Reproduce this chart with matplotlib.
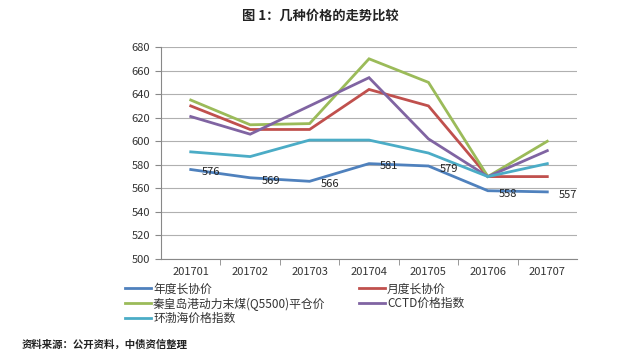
import matplotlib
matplotlib.use("Agg")
import matplotlib.pyplot as plt

plt.rcParams["font.family"] = ["Noto Sans CJK SC", "DejaVu Sans"]

months = ["201701", "201702", "201703", "201704", "201705", "201706", "201707"]
annual = [576, 569, 566, 581, 579, 558, 557]
monthly = [630, 610, 610, 644, 630, 570, 570]
qhd_5500 = [635, 614, 615, 670, 650, 570, 600]
cctd = [621, 606, 630, 654, 602, 570, 592]
bohai = [591, 587, 601, 601, 590, 570, 581]

series = [
    ("年度长协价", annual, "#4F81BD"),
    ("月度长协价", monthly, "#C0504D"),
    ("秦皇岛港动力末煤(Q5500)平仓价", qhd_5500, "#9BBB59"),
    ("CCTD价格指数", cctd, "#8064A2"),
    ("环渤海价格指数", bohai, "#4BACC6"),
]

fig = plt.figure(figsize=(6.4, 3.51), dpi=100)
fig.patch.set_facecolor("white")
ax = fig.add_axes([0.2516, 0.262, 0.65, 0.604])

x = list(range(len(months)))
lines = []
for name, vals, color in series:
    ln, = ax.plot(x, vals, color=color, lw=2, label=name, solid_joinstyle="miter")
    lines.append(ln)

# data labels on the annual series
for xi, v in zip(x, annual):
    ax.annotate(str(v), (xi, v), xytext=(8, -2), textcoords="offset points",
                ha="left", va="center", fontsize=8, color="#222222")

ax.set_xlim(-0.5, len(months) - 0.5)
ax.set_ylim(500, 680)
ax.set_yticks(range(500, 681, 20))
ax.set_xticks(x)
ax.set_xticklabels(months)
ax.set_xticks([i + 0.5 for i in range(len(months) - 1)], minor=True)
ax.tick_params(axis="x", which="major", length=0, pad=6, labelsize=8, colors="#333333")
ax.tick_params(axis="x", which="minor", length=4, color="#888888", direction="out")
ax.tick_params(axis="y", length=4, color="#888888", labelsize=8, labelcolor="#333333", pad=4)

ax.grid(axis="y", color="#B0B0B0", lw=0.8)
ax.set_axisbelow(True)
for side in ["top", "right"]:
    ax.spines[side].set_visible(False)
for side in ["left", "bottom"]:
    ax.spines[side].set_color("#888888")
    ax.spines[side].set_linewidth(0.8)

# legend fills column-wise, so reorder to get row-wise reading order
order = [0, 2, 4, 1, 3]
fig.legend([lines[i] for i in order], [series[i][0] for i in order],
           loc="upper left", bbox_to_anchor=(0.195, 0.195), ncol=2, frameon=False,
           fontsize=8.5, handlelength=2.2, handletextpad=0.2, columnspacing=2.8,
           labelspacing=0.15, borderaxespad=0, borderpad=0, labelcolor="#333333")

fig.text(0.5, 0.955, "图 1：几种价格的走势比较", ha="center", va="center",
         fontsize=9.5, fontweight="bold", color="#222222")
fig.text(0.034, 0.017, "资料来源：公开资料，中债资信整理", ha="left", va="center",
         fontsize=7.5, fontweight="bold", color="#222222")

fig.savefig("out.png", dpi=100)
